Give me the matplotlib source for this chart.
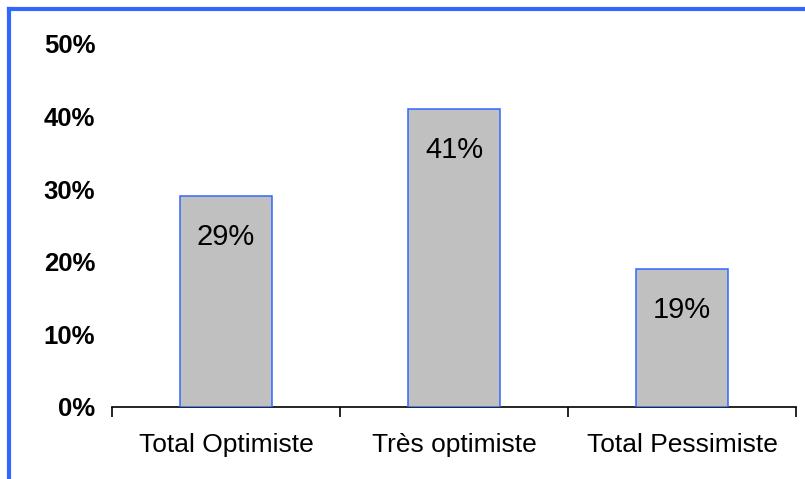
import matplotlib
matplotlib.use("Agg")
import matplotlib.pyplot as plt
from matplotlib.lines import Line2D
from matplotlib.ticker import FixedLocator, PercentFormatter

categories = ["Total Optimiste", "Très optimiste", "Total Pessimiste"]
values = [0.29, 0.41, 0.19]
yticks = [0.0, 0.1, 0.2, 0.3, 0.4, 0.5]

plt.rcParams['font.family'] = ['Liberation Sans', 'DejaVu Sans']

W, H = 805, 479
fig = plt.figure(figsize=(W / 100, H / 100), dpi=100)
ax = fig.add_axes([112 / W, 1 - 407 / H, (796 - 112) / W, (407 - 44) / H])

x = list(range(len(categories)))
ax.bar(x, values, width=0.4, color='#c0c0c0', edgecolor='#3366ff', linewidth=1.1, zorder=3)

for xi, v in zip(x, values):
    ax.annotate(f"{round(v * 100)}%", (xi, v), xytext=(0, -29.5), textcoords='offset points',
                ha='center', va='center', fontsize=21)

ax.set_xlim(-0.5, len(categories) - 0.5)
ax.set_ylim(0, 0.5)
ax.set_yticks(yticks)
ax.yaxis.set_major_formatter(PercentFormatter(1.0, decimals=0))
ax.tick_params(axis='y', length=0, pad=12, labelsize=18.5)
for lbl in ax.get_yticklabels():
    lbl.set_fontweight('bold')

ax.set_xticks(x)
ax.set_xticklabels(categories)
ax.xaxis.set_minor_locator(FixedLocator([-0.5, 0.5, 1.5, 2.5]))
ax.tick_params(axis='x', which='major', length=0, pad=19, labelsize=19)
ax.tick_params(axis='x', which='minor', length=7, width=1.2, direction='out')

for s in ['top', 'right', 'left']:
    ax.spines[s].set_visible(False)
ax.spines['bottom'].set_linewidth(1.2)

# blue outer frame (left and top)
blue = '#3366ff'
fig.add_artist(Line2D([9 / W, 9 / W], [0, 1 - 9 / H], color=blue, linewidth=3,
                      transform=fig.transFigure))
fig.add_artist(Line2D([9 / W, 1], [1 - 9 / H, 1 - 9 / H], color=blue, linewidth=3,
                      transform=fig.transFigure, solid_capstyle='projecting'))

fig.savefig('out.png', dpi=100)
